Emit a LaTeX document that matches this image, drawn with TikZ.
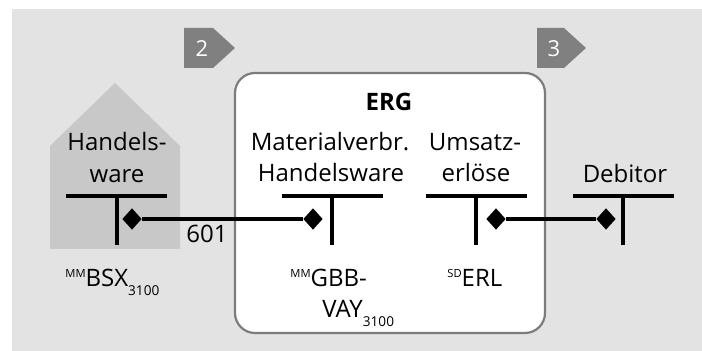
\documentclass[tikz,border=0pt]{standalone}
\usepackage{fontspec}
\setmainfont{Open Sans}
\usetikzlibrary{shapes.geometric}
\definecolor{bggray}{HTML}{E3E3E3}
\definecolor{housegray}{HTML}{C8C8C8}
\definecolor{taggray}{HTML}{808080}
\definecolor{framegray}{HTML}{7C7C7C}
% small raised / lowered indices
\newcommand\upidx[1]{\raisebox{4.6pt}{\fontsize{5.6}{6}\selectfont #1}}
\newcommand\lowidx[1]{\raisebox{-4.4pt}{\fontsize{6.8}{7}\selectfont #1}}
\begin{document}
\begin{tikzpicture}[x=0.5pt,y=-0.5pt,
  lbl/.style={font=\fontsize{12}{15}\selectfont, inner sep=0pt, anchor=base},
  lblw/.style={lbl, anchor=base west},
  tline/.style={line width=1.6pt},
  dia/.style={diamond, fill=black, inner sep=0pt, minimum width=9.8pt, minimum height=10.8pt},
  link/.style={line width=1.6pt},
  tagshape/.style={fill=taggray},
  tagnum/.style={text=white, font=\fontsize{11}{12}\selectfont, inner sep=0pt}]
\useasboundingbox (0,0) rectangle (702,351);
% background panel
\fill[bggray] (12,9) rectangle (702,351);

% step markers
\fill[tagshape] (184,28) -- (213,28) -- (235,48) -- (213,68) -- (184,68) -- cycle;
\node[tagnum] (tag2) at (202,49) {2};
\fill[tagshape] (537,28) -- (564,28) -- (586,48) -- (564,68) -- (537,68) -- cycle;
\node[tagnum] (tag3) at (554,49) {3};

% warehouse
\fill[housegray] (50,249) -- (50,146) -- (115,83) -- (180,146) -- (180,249) -- cycle;

% income statement frame
\draw[framegray, line width=1.1pt, fill=white, rounded corners=10pt] (235,73) rectangle (545,333);
\node[lbl, font=\fontsize{12}{15}\bfseries] (erg) at (389,111) {ERG};

% account titles
\node[lbl] (hw1) at (117,151) {Handels-};
\node[lbl] (hw2) at (117,183) {ware};
\node[lbl] (mv1) at (330,151) {Materialverbr.};
\node[lbl] (mv2) at (331,182) {Handelsware};
\node[lbl] (ue1) at (475,151) {Umsatz-};
\node[lbl] (ue2) at (476,182) {erlöse};
\node[lbl] (deb) at (625,183) {Debitor};

% T-accounts
\draw[tline] (66,196) -- (167,196) (117,196) -- (117,245);
\draw[tline] (282,196) -- (383,196) (332,196) -- (332,245);
\draw[tline] (426,196) -- (527,196) (476,196) -- (476,245);
\draw[tline] (573,196) -- (674,196) (623,196) -- (623,245);

% postings
\node[dia] (d1) at (132,219) {};
\node[dia] (d2) at (313,219) {};
\node[dia] (d3) at (496,219) {};
\node[dia] (d4) at (606,219) {};
\draw[link] (d1) -- (d2);
\draw[link] (d3) -- (d4);
\node[lbl] (mvt) at (207,243) {601};

% account keys
\node[lblw] (k1) at (65,287) {\upidx{MM}BSX\lowidx{3100}};
\node[lblw] (k2a) at (290,287) {\upidx{MM}GBB-};
\node[lblw] (k2b) at (322,318) {VAY\lowidx{3100}};
\node[lblw] (k3) at (447,287) {\upidx{SD}ERL};
\end{tikzpicture}
\end{document}
